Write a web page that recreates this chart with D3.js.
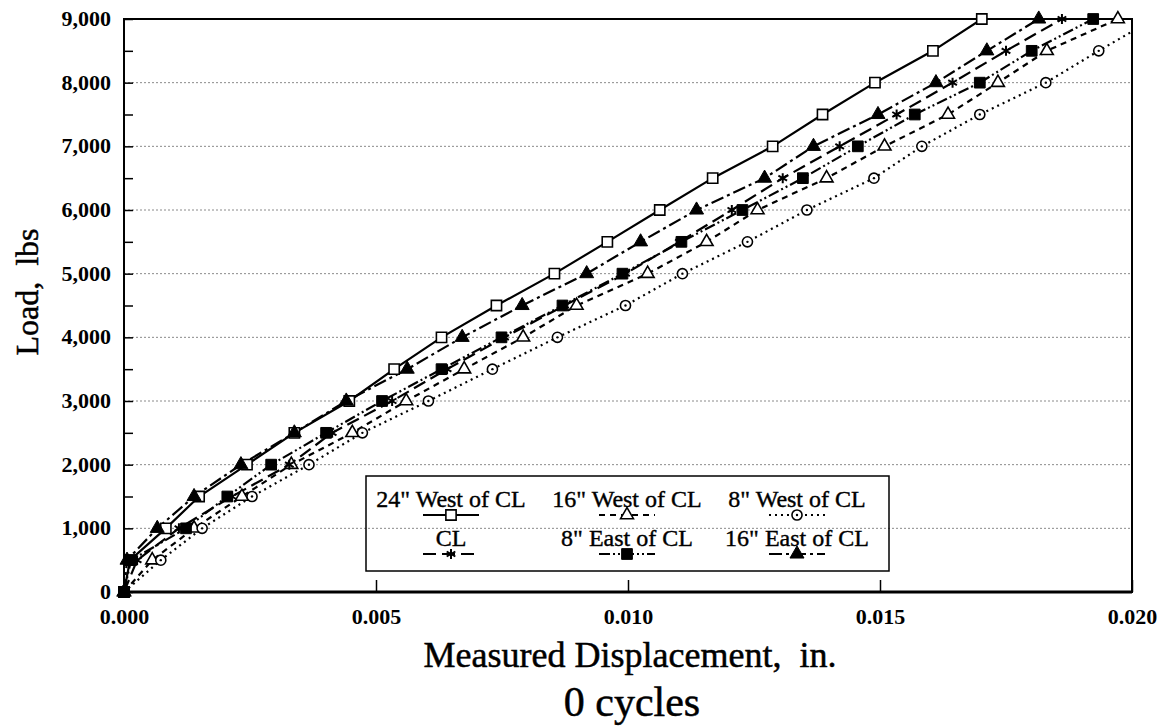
<!DOCTYPE html>
<html>
<head>
<meta charset="utf-8">
<script src="https://cdn.jsdelivr.net/npm/d3@7"></script>
<style>
  html, body { margin: 0; padding: 0; background: #fff; }
  svg { display: block; }
  text { font-family: "Liberation Serif", "Times New Roman", serif; fill: #000; }
</style>
</head>
<body>
<svg id="chart" width="1170" height="726"></svg>
<script>
// Applied load steps (lbs)
const loads = [0, 500, 1000, 1500, 2000, 2500, 3000, 3500, 4000, 4500,
               5000, 5500, 6000, 6500, 7000, 7500, 8000, 8500, 9000];

// Measured displacement (in.) at each load step, by gauge location
const disp24West = [0, 0.00012, 0.00083, 0.00149, 0.00244, 0.00338, 0.00447, 0.00536, 0.00630, 0.00739,
                    0.00854, 0.00959, 0.01063, 0.01168, 0.01287, 0.01386, 0.01490, 0.01605, 0.01702];
const disp16West = [0, 0.00056, 0.00139, 0.00234, 0.00332, 0.00453, 0.00560, 0.00675, 0.00792, 0.00898,
                    0.01039, 0.01156, 0.01257, 0.01394, 0.01509, 0.01635, 0.01734, 0.01831, 0.01972];
const disp8West  = [0, 0.00073, 0.00155, 0.00254, 0.00367, 0.00473, 0.00604, 0.00731, 0.00860, 0.00995,
                    0.01108, 0.01237, 0.01355, 0.01488, 0.01583, 0.01698, 0.01829, 0.01934, 0.02043];
const dispCL     = [0, 0.00026, 0.00109, 0.00214, 0.00328, 0.00413, 0.00532, 0.00641, 0.00755, 0.00874,
                    0.00995, 0.01102, 0.01206, 0.01307, 0.01420, 0.01533, 0.01644, 0.01750, 0.01861];
const disp8East  = [0, 0.00014, 0.00123, 0.00205, 0.00292, 0.00401, 0.00512, 0.00630, 0.00749, 0.00870,
                    0.00989, 0.01106, 0.01227, 0.01347, 0.01456, 0.01569, 0.01698, 0.01801, 0.01923];
const disp16East = [0, 0.00006, 0.00066, 0.00139, 0.00232, 0.00338, 0.00441, 0.00562, 0.00671, 0.00790,
                    0.00918, 0.01025, 0.01136, 0.01271, 0.01368, 0.01496, 0.01611, 0.01712, 0.01815];

const seriesNames = ['24" West of CL', '16" West of CL', '8" West of CL',
                     'CL', '8" East of CL', '16" East of CL'];

// Axis ticks
const xTicks = [0, 0.005, 0.010, 0.015, 0.020];
const yTicks = [0, 1000, 2000, 3000, 4000, 5000, 6000, 7000, 8000, 9000];
const yMinorTicks = [500, 1500, 2500, 3500, 4500, 5500, 6500, 7500, 8500];
const gridLoads = [1000, 2000, 3000, 4000, 5000, 6000, 7000, 8000];

const xTitle = "Measured Displacement,  in.";
const yTitle = "Load,  lbs";
const caption = "0 cycles";

// ---- drawing ----
const svg = d3.select("#chart");
const plotL = 124, plotR = 1132, plotT = 19, plotB = 592;

const x = d3.scaleLinear().domain([0, 0.020]).range([plotL, plotR]);
const y = d3.scaleLinear().domain([0, 9000]).range([plotB, plotT]);

const asterisk = d3.symbolAsterisk || d3.symbolCross;

const styles = [
  { dash: null,                  symbol: d3.symbolSquare,   size: 105, fill: "#fff", sw: 1.6 },
  { dash: "6,5",                 symbol: d3.symbolTriangle, size: 72,  fill: "#fff", sw: 1.6 },
  { dash: "2,4",                 symbol: d3.symbolCircle,   size: 80,  fill: "#fff", sw: 1.6, dot: true },
  { dash: "13,6",                symbol: asterisk,          size: 70,  fill: "none", sw: 2 },
  { dash: "11,3,2,3,2,3",        symbol: d3.symbolSquare,   size: 115, fill: "#000", sw: 1 },
  { dash: "13,4,3,4",            symbol: d3.symbolTriangle, size: 85,  fill: "#000", sw: 1 }
];

const allDisp = [disp24West, disp16West, disp8West, dispCL, disp8East, disp16East];
const series = seriesNames.map((name, i) => ({
  name, style: styles[i],
  points: loads.map((L, j) => ({ load: L, disp: allDisp[i][j] }))
}));

// clip region for lines
svg.append("defs").append("clipPath").attr("id", "plotClip")
  .append("rect").attr("x", plotL).attr("y", plotT)
  .attr("width", plotR - plotL).attr("height", plotB - plotT);

// dotted horizontal gridlines
svg.append("g").selectAll("line").data(gridLoads).join("line")
  .attr("x1", plotL).attr("x2", plotR)
  .attr("y1", d => y(d)).attr("y2", d => y(d))
  .attr("stroke", "#8a8a8a").attr("stroke-width", 1)
  .attr("stroke-dasharray", "2,2");

// y axis with inward ticks
const yAxis = svg.append("g").attr("transform", `translate(${plotL},0)`)
  .call(d3.axisLeft(y).tickValues(yTicks).tickSize(-9).tickPadding(13)
        .tickFormat(d3.format(",")));
yAxis.select(".domain").remove();
yAxis.selectAll("line").attr("stroke", "#000").attr("stroke-width", 1.5);
yAxis.selectAll("text").attr("font-size", 22).attr("font-weight", "bold")
  .attr("font-family", "Liberation Serif").attr("dy", "0.3em");

const yMinor = svg.append("g").attr("transform", `translate(${plotL},0)`)
  .call(d3.axisLeft(y).tickValues(yMinorTicks).tickSize(-9).tickFormat(""));
yMinor.select(".domain").remove();
yMinor.selectAll("line").attr("stroke", "#000").attr("stroke-width", 1.5);

// x axis with inward ticks
const xAxis = svg.append("g").attr("transform", `translate(0,${plotB})`)
  .call(d3.axisBottom(x).tickValues(xTicks).tickSize(-12).tickPadding(16)
        .tickFormat(d3.format(".3f")));
xAxis.select(".domain").remove();
xAxis.selectAll("line").attr("stroke", "#000").attr("stroke-width", 1.5);
xAxis.selectAll("text").attr("font-size", 22).attr("font-weight", "bold")
  .attr("font-family", "Liberation Serif");

// plot frame
svg.append("rect").attr("x", plotL).attr("y", plotT)
  .attr("width", plotR - plotL).attr("height", plotB - plotT)
  .attr("fill", "none").attr("stroke", "#000").attr("stroke-width", 2);
svg.append("line").attr("x1", plotL).attr("x2", plotR)
  .attr("y1", plotB).attr("y2", plotB)
  .attr("stroke", "#000").attr("stroke-width", 3);

// series lines
const line = d3.line().x(d => x(d.disp)).y(d => y(d.load));
const linesG = svg.append("g").attr("clip-path", "url(#plotClip)");
series.forEach(s => {
  linesG.append("path").datum(s.points)
    .attr("d", line).attr("fill", "none").attr("stroke", "#000")
    .attr("stroke-width", 2.2)
    .attr("stroke-dasharray", s.style.dash);
});

// markers
function drawMarker(g, st, cx, cy) {
  g.append("path")
    .attr("d", d3.symbol().type(st.symbol).size(st.size)())
    .attr("transform", `translate(${cx},${cy})`)
    .attr("fill", st.fill).attr("stroke", "#000").attr("stroke-width", st.sw);
  if (st.dot) {
    g.append("circle").attr("cx", cx).attr("cy", cy).attr("r", 1.2).attr("fill", "#000");
  }
}
const markG = svg.append("g");
series.forEach(s => {
  s.points.filter(p => p.disp <= x.domain()[1]).forEach(p => {
    drawMarker(markG, s.style, x(p.disp), y(p.load));
  });
});

// legend
const lg = svg.append("g");
const lgX = 366, lgY = 476, lgW = 523, lgH = 95;
lg.append("rect").attr("x", lgX).attr("y", lgY).attr("width", lgW).attr("height", lgH)
  .attr("fill", "none").attr("stroke", "#000").attr("stroke-width", 1.5);
const colCenters = [lgX + 85, lgX + 261, lgX + 431];
const rowText = [lgY + 31, lgY + 70];
const rowLine = [lgY + 39, lgY + 78];
series.forEach((s, i) => {
  const c = colCenters[i % 3], r = Math.floor(i / 3);
  lg.append("text").attr("x", c).attr("y", rowText[r])
    .attr("text-anchor", "middle").attr("font-size", 24)
    .attr("stroke", "#000").attr("stroke-width", 0.4)
    .style("white-space", "pre").text(s.name);
  lg.append("line").attr("x1", c - 28).attr("x2", c + 28)
    .attr("y1", rowLine[r]).attr("y2", rowLine[r])
    .attr("stroke", "#000").attr("stroke-width", 2)
    .attr("stroke-dasharray", s.style.dash);
  drawMarker(lg, s.style, c, rowLine[r]);
});

// titles
svg.append("text").attr("x", 630).attr("y", 667).attr("text-anchor", "middle")
  .attr("font-size", 36).attr("stroke", "#000").attr("stroke-width", 0.5)
  .style("white-space", "pre").text(xTitle);
svg.append("text").attr("x", 632).attr("y", 716).attr("text-anchor", "middle")
  .attr("font-size", 42).attr("stroke", "#000").attr("stroke-width", 0.5)
  .text(caption);
svg.append("text").attr("transform", "translate(38,292) rotate(-90)")
  .attr("text-anchor", "middle").attr("font-size", 32)
  .attr("stroke", "#000").attr("stroke-width", 0.5)
  .style("white-space", "pre").text(yTitle);
</script>
</body>
</html>
